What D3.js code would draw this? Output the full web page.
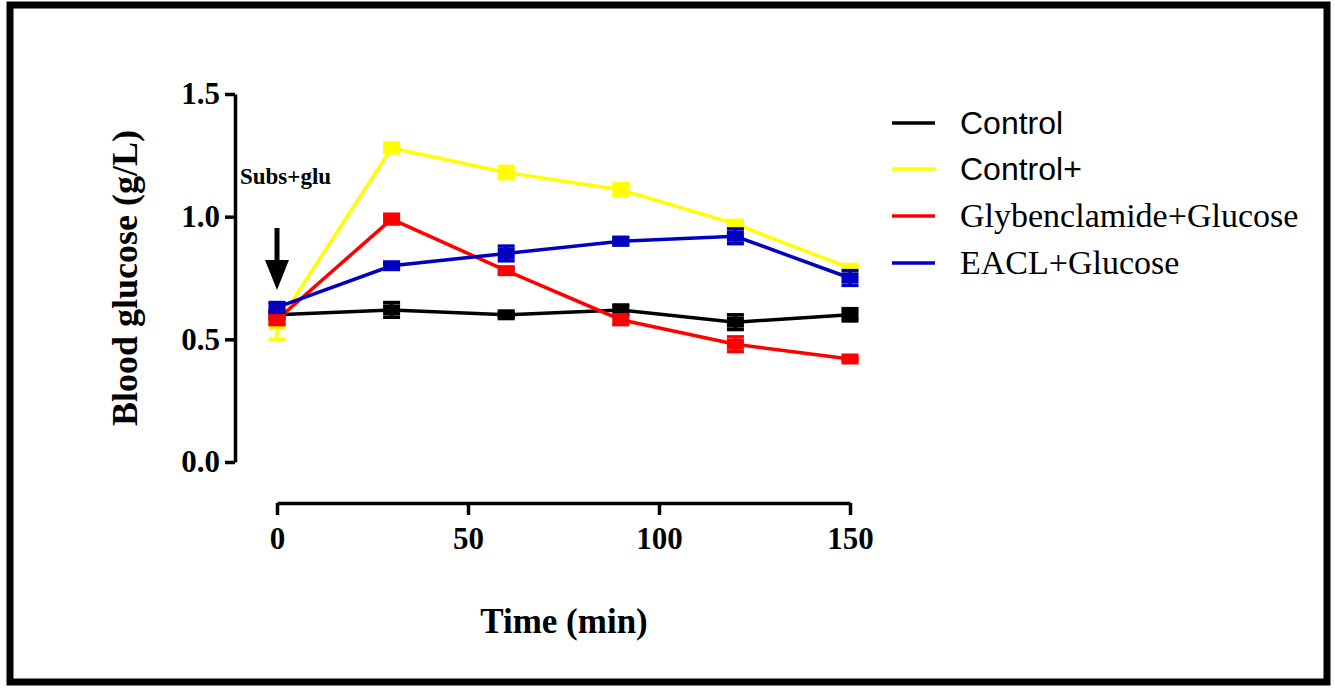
<!DOCTYPE html>
<html>
<head>
<meta charset="utf-8">
<script src="https://cdn.jsdelivr.net/npm/d3@7"></script>
<style>
  body { margin: 0; background: #fff; }
  svg { display: block; }
</style>
</head>
<body>
<svg id="chart" width="1335" height="689"></svg>
<script>
// time points (min)
var times = [0, 30, 60, 90, 120, 150];

// series names and colours
var seriesNames = ["Control", "Control+", "Glybenclamide+Glucose", "EACL+Glucose"];
var seriesColors = ["#000000", "#ffff00", "#ff0000", "#0000c0"];

// mean blood glucose (g/L)
var controlVals = [0.60, 0.62, 0.60, 0.62, 0.57, 0.60];
var controlPlusVals = [0.56, 1.28, 1.18, 1.11, 0.97, 0.79];
var glybVals = [0.58, 0.99, 0.78, 0.58, 0.48, 0.42];
var eaclVals = [0.63, 0.80, 0.85, 0.90, 0.92, 0.75];

// error (SEM)
var controlErr = [0.02, 0.03, 0.01, 0.02, 0.03, 0.025];
var controlPlusErr = [0.06, 0.02, 0.025, 0.025, 0.012, 0.012];
var glybErr = [0.02, 0.02, 0.01, 0.02, 0.03, 0.005];
var eaclErr = [0.02, 0.01, 0.03, 0.015, 0.03, 0.03];

var yTicks = [0, 0.5, 1.0, 1.5];
var xTicks = [0, 50, 100, 150];

var svg = d3.select("#chart");

// outer frame
svg.append("rect")
  .attr("x", 10).attr("y", 5)
  .attr("width", 1317).attr("height", 677)
  .attr("fill", "none")
  .attr("stroke", "#000")
  .attr("stroke-width", 7);

var x = d3.scaleLinear().domain([0, 150]).range([277, 850]);
var y = d3.scaleLinear().domain([0, 1.5]).range([462, 94]);

var serif = "'Liberation Serif', 'Times New Roman', serif";
var sans = "'Liberation Sans', Arial, sans-serif";

// y axis
var yAxis = svg.append("g")
  .attr("transform", "translate(235,0)")
  .call(d3.axisLeft(y).tickValues(yTicks).tickSize(10).tickSizeOuter(0).tickPadding(5).tickFormat(d3.format(".1f")));
yAxis.select(".domain").attr("stroke-width", 3.5);
yAxis.selectAll(".tick line").attr("stroke-width", 3.5);
yAxis.selectAll(".tick text")
  .attr("font-family", serif).attr("font-weight", "bold").attr("font-size", 31)
  .attr("fill", "#000");

// x axis
var xAxis = svg.append("g")
  .attr("transform", "translate(0,503)")
  .call(d3.axisBottom(x).tickValues(xTicks).tickSize(12).tickSizeOuter(0).tickPadding(12));
xAxis.select(".domain").attr("stroke-width", 3.5);
xAxis.selectAll(".tick line").attr("stroke-width", 3.5);
xAxis.selectAll(".tick text")
  .attr("font-family", serif).attr("font-weight", "bold").attr("font-size", 31)
  .attr("fill", "#000");

// axis titles
svg.append("text")
  .attr("transform", "translate(137,278) rotate(-90)")
  .attr("text-anchor", "middle")
  .attr("font-family", serif).attr("font-weight", "bold").attr("font-size", 36)
  .text("Blood glucose (g/L)");

svg.append("text")
  .attr("x", 564).attr("y", 633)
  .attr("text-anchor", "middle")
  .attr("font-family", serif).attr("font-weight", "bold").attr("font-size", 35)
  .text("Time (min)");

// series
var allVals = [controlVals, controlPlusVals, glybVals, eaclVals];
var allErr = [controlErr, controlPlusErr, glybErr, eaclErr];

var line = d3.line()
  .x(function(d) { return x(d.t); })
  .y(function(d) { return y(d.v); });

allVals.forEach(function(vals, i) {
  var pts = times.map(function(t, j) { return { t: t, v: vals[j], e: allErr[i][j] }; });
  var color = seriesColors[i];
  var g = svg.append("g");

  g.append("path")
    .datum(pts)
    .attr("d", line)
    .attr("fill", "none")
    .attr("stroke", color)
    .attr("stroke-width", 3.5);

  // error bars
  pts.forEach(function(p) {
    var cx = x(p.t);
    g.append("line")
      .attr("x1", cx).attr("x2", cx)
      .attr("y1", y(p.v - p.e)).attr("y2", y(p.v + p.e))
      .attr("stroke", color).attr("stroke-width", 3.5);
    [p.v - p.e, p.v + p.e].forEach(function(ev) {
      g.append("line")
        .attr("x1", cx - 8.5).attr("x2", cx + 8.5)
        .attr("y1", y(ev)).attr("y2", y(ev))
        .attr("stroke", color).attr("stroke-width", 3.5);
    });
  });

  // square markers
  g.selectAll("rect")
    .data(pts)
    .enter().append("rect")
    .attr("x", function(d) { return x(d.t) - 8.5; })
    .attr("y", function(d) { return y(d.v) - 5.5; })
    .attr("width", 17).attr("height", 11)
    .attr("fill", color);
});

// annotation
svg.append("text")
  .attr("x", 240).attr("y", 184)
  .attr("font-family", serif).attr("font-weight", "bold").attr("font-size", 23)
  .text("Subs+glu");

svg.append("line")
  .attr("x1", x(0)).attr("x2", x(0))
  .attr("y1", 228).attr("y2", 262)
  .attr("stroke", "#000").attr("stroke-width", 5);
svg.append("path")
  .attr("d", "M" + (x(0) - 12) + ",260 L" + (x(0) + 12) + ",260 L" + x(0) + ",290 Z")
  .attr("fill", "#000");

// legend
var legendY = [123, 169, 216, 263];
var legendFonts = [sans, sans, serif, serif];
var legendSizes = [32, 32, 34, 34];
seriesNames.forEach(function(name, i) {
  svg.append("line")
    .attr("x1", 892).attr("x2", 935)
    .attr("y1", legendY[i]).attr("y2", legendY[i])
    .attr("stroke", seriesColors[i]).attr("stroke-width", 3.5);
  svg.append("text")
    .attr("x", 960).attr("y", legendY[i] + 11)
    .attr("font-family", legendFonts[i]).attr("font-size", legendSizes[i])
    .text(name);
});
</script>
</body>
</html>
